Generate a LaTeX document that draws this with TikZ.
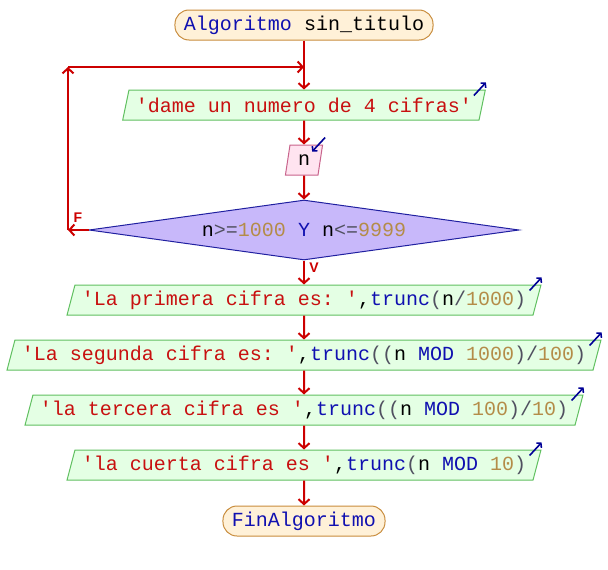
\documentclass[tikz,border=0pt]{standalone}
\usepackage{fontspec}
\setmonofont{Liberation Mono}
\newfontfamily\lblfont{Liberation Sans}
\usetikzlibrary{shapes.geometric,arrows.meta}
\definecolor{flowred}{RGB}{204,0,0}
\definecolor{strred}{RGB}{200,16,16}
\definecolor{kwblue}{RGB}{16,16,176}
\definecolor{numgold}{RGB}{180,140,72}
\definecolor{opgray}{RGB}{80,80,96}
\definecolor{markblue}{RGB}{0,0,150}
\definecolor{termfill}{RGB}{255,241,216}
\definecolor{termborder}{RGB}{200,140,60}
\definecolor{outfill}{RGB}{228,255,228}
\definecolor{outborder}{RGB}{96,192,96}
\definecolor{infill}{RGB}{255,228,240}
\definecolor{inborder}{RGB}{200,100,140}
\definecolor{condfill}{RGB}{200,184,250}
\definecolor{condborder}{RGB}{32,32,160}
\newcommand{\txtstr}[1]{\textcolor{strred}{#1}}
\newcommand{\txtkw}[1]{\textcolor{kwblue}{#1}}
\newcommand{\txtnum}[1]{\textcolor{numgold}{#1}}
\newcommand{\txtop}[1]{\textcolor{opgray}{#1}}
\begin{document}
\begin{tikzpicture}[x=1pt,y=-1pt,
    font=\ttfamily\fontsize{20}{24}\selectfont,
    terminal/.style={draw=termborder,fill=termfill,line width=1pt,rounded corners=14pt,
      minimum height=30pt,inner xsep=9pt,inner ysep=0pt},
    salida/.style={trapezium,trapezium left angle=67,trapezium right angle=113,
      trapezium stretches=true,draw=outborder,fill=outfill,line width=1pt,
      minimum height=30pt,inner xsep=7pt,inner ysep=0pt},
    entrada/.style={salida,draw=inborder,fill=infill,inner xsep=8pt},
    decision/.style={diamond,aspect=7,draw=condborder,fill=condfill,line width=1pt,
      minimum width=430pt,minimum height=60pt,inner sep=0pt},
    flow/.style={draw=flowred,line width=2pt,-{Straight Barb[length=5pt,width=11pt]}},
    iomark/.style={draw=markblue,line width=1.6pt,-{Straight Barb[length=3pt,width=7pt]}},
    lbl/.style={text=flowred,font=\lblfont\bfseries\fontsize{14}{16}\selectfont}]
  \useasboundingbox (0,0) rectangle (608,570);
  %inicio
  \node[terminal] (title) at (304,25) {\txtkw{Algoritmo} sin\_titulo};
  %leer
  \node[salida] (o0) at (304,105) {\txtstr{'dame un numero de 4 cifras'}};
  \node[entrada] (inp) at (304,160) {n};
  %condicion
  \node[decision] (cond) at (304,230)
    {n\txtop{>=}\txtnum{1000} \txtkw{Y} n\txtop{<=}\txtnum{9999}};
  %escribir
  \node[salida] (o1) at (304,300)
    {\txtstr{'La primera cifra es: '},\txtkw{trunc}\txtop{(}n\txtop{/}\txtnum{1000}\txtop{)}};
  \node[salida] (o2) at (304,355)
    {\txtstr{'La segunda cifra es: '},\txtkw{trunc}\txtop{((}n \txtkw{MOD} \txtnum{1000}\txtop{)/}\txtnum{100}\txtop{)}};
  \node[salida] (o3) at (304,410)
    {\txtstr{'la tercera cifra es '},\txtkw{trunc}\txtop{((}n \txtkw{MOD} \txtnum{100}\txtop{)/}\txtnum{10}\txtop{)}};
  \node[salida] (o4) at (304,465)
    {\txtstr{'la cuerta cifra es '},\txtkw{trunc}\txtop{(}n \txtkw{MOD} \txtnum{10}\txtop{)}};
  %fin
  \node[terminal] (fin) at (304,521) {\txtkw{FinAlgoritmo}};
  %flechas
  \draw[flow] (title) -- (o0);
  \draw[flow] (o0) -- (inp);
  \draw[flow] (inp) -- (cond);
  \draw[flow] (cond) -- (o1);
  \draw[flow] (o1) -- (o2);
  \draw[flow] (o2) -- (o3);
  \draw[flow] (o3) -- (o4);
  \draw[flow] (o4) -- (fin);
  %repetir
  \coordinate (fl) at (68,230);
  \coordinate (tl) at (68,67);
  \coordinate (jn) at (304,67);
  \draw[flow] (cond.west) -- (fl);
  \draw[flow] (fl) -- (tl);
  \draw[flow] (tl) -- (jn);
  \node[lbl] (lblF) at (78,218) {F};
  \node[lbl] (lblV) at (314,268) {V};
  %marcas
  \draw[iomark] ([shift={(2,-7)}]inp.top right corner) -- ([shift={(-11,7)}]inp.top right corner);
  \foreach \o in {o0,o1,o2,o3,o4}
    \draw[iomark] ([shift={(-12,6)}]\o.top right corner) -- ([shift={(0,-7)}]\o.top right corner);
\end{tikzpicture}
\end{document}
